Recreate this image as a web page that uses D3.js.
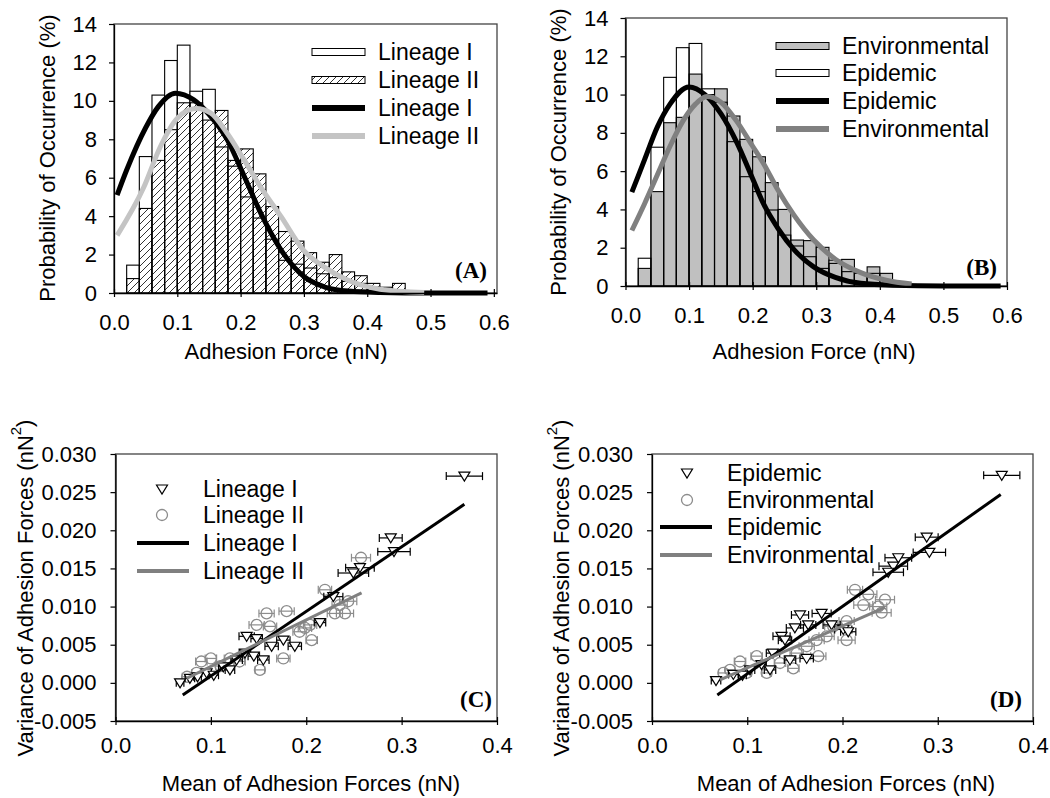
<!DOCTYPE html>
<html><head><meta charset="utf-8">
<script src="https://cdn.jsdelivr.net/npm/d3@7"></script>
<style>body{margin:0;background:#fff}svg{display:block}</style>
</head><body>
<svg id="chart" width="1050" height="798"></svg>
<script>
// ---------- DATA ----------
const binStarts = [0.02,0.04,0.06,0.08,0.10,0.12,0.14,0.16,0.18,0.20,0.22,0.24,0.26,0.28,0.30,0.32,0.34,0.36,0.38,0.40,0.42,0.44];
const binWidth = 0.02;
// Panel A histograms (%)
const histLineageI  = [1.45,7.1,10.3,12.1,12.9,10.5,10.6,7.6,6.6,5.0,3.9,2.8,1.7,1.5,1.3,1.0,0.8,0.6,0.5,0.3,0.2,0];
const histLineageII = [0.75,4.4,6.9,8.5,9.9,9.9,9.0,9.5,6.9,7.5,6.2,4.5,3.2,2.7,2.1,1.6,2.0,1.1,0.9,0.5,0.3,0.5];
// Panel B histograms (%)
const histEpidemic      = [1.45,7.25,10.9,12.45,12.67,10.3,9.6,7.54,5.71,4.93,3.97,2.66,2.09,1.53,0.92,1.18,0.75,0.66,0.66,0.3,0,0];
const histEnvironmental = [0.92,4.93,8.53,8.81,11.07,10.0,10.3,8.88,7.66,6.75,5.4,4.0,2.4,2.37,2.02,1.35,1.39,0.7,1.0,0.66,0.15,0];
// Panel A fitted curves
const curveA_I_x  = [0.005,0.02,0.05,0.07,0.097,0.126,0.15,0.179,0.206,0.232,0.264,0.301,0.333,0.37,0.42,0.5,0.55,0.59];
const curveA_I_y  = [5.1,6.4,8.6,9.7,10.4,10.05,9.3,7.97,6.05,4.14,2.23,0.83,0.31,0.1,0.03,0,0,0];
const curveA_II_x = [0.005,0.047,0.073,0.1,0.13,0.153,0.179,0.206,0.232,0.264,0.3,0.33,0.367,0.42,0.49];
const curveA_II_y = [3.0,5.5,7.6,9.1,9.6,9.36,8.3,6.9,5.5,3.97,2.2,1.4,0.7,0.2,0.03];
// Panel B fitted curves
const curveB_Epi_x = [0.01,0.03,0.05,0.07,0.1,0.125,0.15,0.175,0.2,0.217,0.24,0.265,0.296,0.33,0.37,0.42,0.5,0.59];
const curveB_Epi_y = [4.9,6.6,8.3,9.5,10.4,10.0,9.0,7.5,5.6,4.3,3.0,1.9,1.0,0.45,0.14,0.04,0,0];
const curveB_Env_x = [0.01,0.03,0.05,0.07,0.09,0.11,0.128,0.15,0.175,0.2,0.217,0.24,0.265,0.296,0.33,0.37,0.41,0.45];
const curveB_Env_y = [2.9,4.3,5.8,7.3,8.6,9.5,9.9,9.6,8.6,7.3,6.4,5.0,3.7,2.4,1.4,0.7,0.3,0.1];
const histXTicks = [0,0.1,0.2,0.3,0.4,0.5,0.6];
const histYTicks = [0,2,4,6,8,10,12,14];

// Panel C points [mean, variance, error]
const scatterLineageI = [
 [0.3658,0.0271,0.019],[0.2886,0.0190,0.012],[0.2920,0.0172,0.017],[0.2563,0.0151,0.015],[0.2494,0.0144,0.016],
 [0.2284,0.0113,0.010],[0.2144,0.0079,0.006],[0.1375,0.0061,0.008],[0.1480,0.0058,0.006],[0.1760,0.0056,0.007],
 [0.1880,0.0048,0.007],[0.1637,0.0048,0.007],[0.1357,0.0039,0.006],[0.1270,0.0030,0.006],[0.1550,0.0030,0.006],
 [0.1130,0.0021,0.005],[0.0955,0.0013,0.005],[0.0780,0.0006,0.005],[0.0677,0.0000,0.004],[0.1450,0.0035,0.006],
 [0.1200,0.0017,0.005],[0.1030,0.0010,0.005],[0.0860,0.0008,0.004]];
const scatterLineageII = [
 [0.2574,0.0164,0.010],[0.2196,0.0122,0.007],[0.2440,0.0107,0.009],[0.2350,0.0102,0.008],[0.2300,0.0091,0.008],
 [0.2406,0.0091,0.009],[0.2040,0.0076,0.007],[0.1986,0.0072,0.007],[0.2057,0.0056,0.006],[0.1584,0.0091,0.008],
 [0.1794,0.0094,0.008],[0.1480,0.0076,0.008],[0.1620,0.0074,0.007],[0.1514,0.0017,0.005],[0.1760,0.0032,0.007],
 [0.1930,0.0067,0.007],[0.0900,0.0028,0.006],[0.1000,0.0032,0.006],[0.0850,0.0013,0.005],[0.1100,0.0022,0.005],
 [0.1300,0.0028,0.006],[0.0750,0.0008,0.005],[0.1200,0.0032,0.006]];
const fitLineageI  = [[0.0705,-0.0016],[0.3658,0.0234]];
const fitLineageII = [[0.0745,0.0006],[0.258,0.0118]];
// Panel D points
const scatterEpidemic = [
 [0.3672,0.0272,0.019],[0.2884,0.0191,0.012],[0.2912,0.0171,0.017],[0.2586,0.0164,0.014],[0.2533,0.0153,0.015],
 [0.2480,0.0145,0.016],[0.1554,0.0089,0.009],[0.1781,0.0091,0.010],[0.1640,0.0076,0.008],[0.1500,0.0072,0.009],
 [0.1360,0.0061,0.009],[0.1396,0.0056,0.007],[0.1886,0.0076,0.009],[0.2008,0.0070,0.009],[0.2060,0.0067,0.008],
 [0.1270,0.0039,0.007],[0.1449,0.0030,0.006],[0.1624,0.0032,0.007],[0.1239,0.0017,0.006],[0.1029,0.0017,0.005],
 [0.0854,0.0011,0.005],[0.0672,0.0003,0.005],[0.0950,0.0010,0.004],[0.1150,0.0024,0.005]];
const scatterEnvironmental = [
 [0.2131,0.0122,0.008],[0.2271,0.0116,0.009],[0.2446,0.0109,0.010],[0.2218,0.0102,0.010],[0.2375,0.0100,0.009],
 [0.2411,0.0092,0.010],[0.2043,0.0081,0.008],[0.1903,0.0074,0.009],[0.1833,0.0061,0.008],[0.2043,0.0056,0.009],
 [0.1728,0.0056,0.008],[0.1624,0.0048,0.008],[0.1519,0.0039,0.007],[0.1746,0.0035,0.008],[0.1484,0.0019,0.006],
 [0.1344,0.0026,0.006],[0.1099,0.0035,0.006],[0.0924,0.0028,0.006],[0.0819,0.0017,0.005],[0.0749,0.0013,0.005],
 [0.0994,0.0013,0.005],[0.1204,0.0013,0.005]];
const fitEpidemic      = [[0.0686,-0.0016],[0.3661,0.0247]];
const fitEnvironmental = [[0.0714,0.0004],[0.2446,0.0099]];
const scatXTicks = [0,0.1,0.2,0.3,0.4];
const scatYTicks = [-0.005,0,0.005,0.010,0.015,0.020,0.025,0.030];

// ---------- DRAW ----------
const SANS = "'Liberation Sans', Arial, Helvetica, sans-serif";
const SERIF = "'Liberation Serif', 'Times New Roman', serif";
const svg = d3.select("#chart");
svg.append("rect").attr("width",1050).attr("height",798).attr("fill","#fff");
const defs = svg.append("defs");
const pat = defs.append("pattern").attr("id","hatch").attr("patternUnits","userSpaceOnUse")
  .attr("width",7).attr("height",7);
pat.append("path").attr("d","M-1,1 l2,-2 M0,7 l7,-7 M6,8 l2,-2").attr("stroke","#000").attr("stroke-width",0.8);

function styleAxis(g){
  g.attr("font-size",22).attr("font-family",SANS);
  g.selectAll("path.domain").attr("stroke","#000").attr("stroke-width",1.3);
  g.selectAll(".tick line").attr("stroke","#000").attr("stroke-width",1.2);
  g.selectAll(".tick text").attr("fill","#000");
}
function yTitle(cx, cy, text, sup){
  const t = svg.append("text").attr("transform",`translate(${cx},${cy}) rotate(-90)`)
    .attr("text-anchor","middle").attr("dy","0.35em").attr("font-family",SANS).attr("font-size",22).text(text);
  if (sup){ t.append("tspan").attr("font-size",15).attr("dy","-0.75em").text(sup);
            t.append("tspan").attr("dy","0.5em").text(")"); }
}
function xTitle(cx, by, text){
  svg.append("text").attr("x",cx).attr("y",by).attr("text-anchor","middle")
    .attr("font-family",SANS).attr("font-size",22).text(text);
}
function letter(x,y,t){
  svg.append("text").attr("x",x).attr("y",y).attr("text-anchor","end").attr("font-family",SERIF)
    .attr("font-weight","bold").attr("font-size",23).text(t);
}

function histPanel(o){
  const x = d3.scaleLinear().domain(o.xDom).range(o.xRange);
  const y = d3.scaleLinear().domain([0,14]).range(o.yRange);
  const g = svg.append("g");
  g.append("rect").attr("x",o.xRange[0]).attr("y",o.yRange[1]).attr("width",o.xRange[1]-o.xRange[0])
    .attr("height",o.yRange[0]-o.yRange[1]).attr("fill","none").attr("stroke","#444").attr("stroke-width",1.3);
  o.bars.forEach(b=>{
    g.append("g").selectAll("rect").data(b.values.map((v,i)=>({x0:binStarts[i],v}))).join("rect")
      .filter(d=>d.v>0)
      .attr("x",d=>x(d.x0)).attr("width",d=>x(d.x0+binWidth)-x(d.x0))
      .attr("y",d=>y(d.v)).attr("height",d=>y(0)-y(d.v))
      .attr("fill",b.fill).attr("stroke","#000").attr("stroke-width",1.1);
  });
  const line = d3.line().x(d=>x(d[0])).y(d=>y(d[1])).curve(d3.curveMonotoneX);
  o.curves.forEach(c=>{
    g.append("path").attr("d",line(c.xs.map((v,i)=>[v,c.ys[i]]))).attr("fill","none")
      .attr("stroke",c.color).attr("stroke-width",5).attr("stroke-linecap","butt");
  });
  const ax = g.append("g").attr("transform",`translate(0,${o.yRange[0]})`)
    .call(d3.axisBottom(x).tickValues(histXTicks).tickFormat(d3.format(".1f")).tickSizeInner(4).tickSizeOuter(0).tickPadding(17));
  styleAxis(ax); ax.selectAll(".tick line").attr("y1",-4);
  const ay = g.append("g").attr("transform",`translate(${o.xRange[0]},0)`)
    .call(d3.axisLeft(y).tickValues(histYTicks).tickFormat(d3.format("d")).tickSizeInner(5).tickSizeOuter(0).tickPadding(12));
  styleAxis(ay);
  o.legend.forEach((L,i)=>{
    const ry = o.legY[i];
    if (L.type==="bar"){
      g.append("rect").attr("x",o.legX).attr("y",ry-3.5).attr("width",53).attr("height",7)
        .attr("fill",L.fill).attr("stroke","#000").attr("stroke-width",1);
    } else {
      g.append("line").attr("x1",o.legX).attr("x2",o.legX+53).attr("y1",ry).attr("y2",ry)
        .attr("stroke",L.color).attr("stroke-width",6);
    }
    g.append("text").attr("x",o.legX+66).attr("y",ry+8).attr("font-family",SANS).attr("font-size",23).text(L.label);
  });
}

histPanel({xDom:[0,0.605], xRange:[114,497], yRange:[293,24],
  bars:[{values:histLineageI, fill:"#fff"},{values:histLineageII, fill:"url(#hatch)"}],
  curves:[{xs:curveA_I_x, ys:curveA_I_y, color:"#000"},{xs:curveA_II_x, ys:curveA_II_y, color:"#c4c4c4"}],
  legX:312, legY:[52,80,108,136],
  legend:[{type:"bar",fill:"#fff",label:"Lineage I"},{type:"bar",fill:"url(#hatch)",label:"Lineage II"},
          {type:"line",color:"#000",label:"Lineage I"},{type:"line",color:"#c4c4c4",label:"Lineage II"}]});
histPanel({xDom:[0,0.6], xRange:[625.5,1007], yRange:[286,18],
  bars:[{values:histEnvironmental, fill:"#c0c0c0"},{values:histEpidemic, fill:"none"}],
  curves:[{xs:curveB_Epi_x, ys:curveB_Epi_y, color:"#000"},{xs:curveB_Env_x, ys:curveB_Env_y, color:"#808080"}],
  legX:776, legY:[46,73,101,129],
  legend:[{type:"bar",fill:"#c0c0c0",label:"Environmental"},{type:"bar",fill:"#fff",label:"Epidemic"},
          {type:"line",color:"#000",label:"Epidemic"},{type:"line",color:"#808080",label:"Environmental"}]});

yTitle(47,158,"Probability of Occurrence (%)");
yTitle(558,152,"Probability of Occurrence (%)");
xTitle(286,359,"Adhesion Force (nN)");
xTitle(814,359,"Adhesion Force (nN)");
letter(487,278,"(A)");
letter(997,275,"(B)");

const triPath = "M-5.5,-4 L5.5,-4 L0,5 Z";
function scatterPanel(o){
  const x = d3.scaleLinear().domain([0,0.4]).range(o.xRange);
  const y = d3.scaleLinear().domain([-0.005,0.030]).range([721,454]);
  const g = svg.append("g");
  g.append("rect").attr("x",o.xRange[0]).attr("y",454).attr("width",o.xRange[1]-o.xRange[0]).attr("height",721-454)
    .attr("fill","none").attr("stroke","#444").attr("stroke-width",1.3);
  function drawPts(data, color, kind){
    const pg = g.append("g");
    data.forEach(d=>{
      const py=y(d[1]), x1=x(d[0]-d[2]), x2=x(d[0]+d[2]);
      pg.append("line").attr("x1",x1).attr("x2",x2).attr("y1",py).attr("y2",py).attr("stroke",color).attr("stroke-width",1.2);
      pg.append("line").attr("x1",x1).attr("x2",x1).attr("y1",py-4).attr("y2",py+4).attr("stroke",color).attr("stroke-width",1.2);
      pg.append("line").attr("x1",x2).attr("x2",x2).attr("y1",py-4).attr("y2",py+4).attr("stroke",color).attr("stroke-width",1.2);
    });
    data.forEach(d=>{
      if(kind==="tri") pg.append("path").attr("d",triPath).attr("transform",`translate(${x(d[0])},${y(d[1])})`)
         .attr("fill","#fff").attr("stroke",color).attr("stroke-width",1.2);
      else pg.append("circle").attr("cx",x(d[0])).attr("cy",y(d[1])).attr("r",5.5)
         .attr("fill","none").attr("stroke",color).attr("stroke-width",1.3);
    });
  }
  drawPts(o.gray, "#8c8c8c", "circ");
  drawPts(o.black, "#000", "tri");
  const line = d3.line().x(d=>x(d[0])).y(d=>y(d[1]));
  g.append("path").attr("d",line(o.fitBlack)).attr("stroke","#000").attr("stroke-width",3).attr("fill","none");
  g.append("path").attr("d",line(o.fitGray)).attr("stroke","#808080").attr("stroke-width",3).attr("fill","none");
  const ax = g.append("g").attr("transform","translate(0,721)")
    .call(d3.axisBottom(x).tickValues(scatXTicks).tickFormat(d3.format(".1f")).tickSizeInner(4).tickSizeOuter(0).tickPadding(12));
  styleAxis(ax); ax.selectAll(".tick line").attr("y1",-4);
  const ay = g.append("g").attr("transform",`translate(${o.xRange[0]},0)`)
    .call(d3.axisLeft(y).tickValues(scatYTicks).tickFormat(v=>v.toFixed(3)).tickSizeInner(5).tickSizeOuter(0).tickPadding(14));
  styleAxis(ay);
  const L = o.leg;
  g.append("path").attr("d",triPath).attr("transform",`translate(${L.mx},${L.ys[0]})`).attr("fill","#fff").attr("stroke","#000").attr("stroke-width",1.2);
  g.append("circle").attr("cx",L.mx).attr("cy",L.ys[1]).attr("r",5.5).attr("fill","none").attr("stroke","#8c8c8c").attr("stroke-width",1.3);
  g.append("line").attr("x1",L.lx).attr("x2",L.lx+52).attr("y1",L.ys[2]).attr("y2",L.ys[2]).attr("stroke","#000").attr("stroke-width",4);
  g.append("line").attr("x1",L.lx).attr("x2",L.lx+52).attr("y1",L.ys[3]).attr("y2",L.ys[3]).attr("stroke","#808080").attr("stroke-width",4);
  L.labels.forEach((t,i)=>g.append("text").attr("x",L.tx).attr("y",L.ys[i]+8).attr("font-family",SANS).attr("font-size",23).text(t));
}
scatterPanel({xRange:[115.5,497], black:scatterLineageI, gray:scatterLineageII, fitBlack:fitLineageI, fitGray:fitLineageII,
  leg:{mx:162, lx:137, tx:203, ys:[489,515,543,571], labels:["Lineage I","Lineage II","Lineage I","Lineage II"]}});
scatterPanel({xRange:[652,1033], black:scatterEpidemic, gray:scatterEnvironmental, fitBlack:fitEpidemic, fitGray:fitEnvironmental,
  leg:{mx:687, lx:660, tx:727, ys:[473,500,527,555], labels:["Epidemic","Environmental","Epidemic","Environmental"]}});
yTitle(25,588,"Variance of Adhesion Forces (nN","2");
yTitle(561,588,"Variance of Adhesion Forces (nN","2");
xTitle(311,791,"Mean of Adhesion Forces (nN)");
xTitle(846,791,"Mean of Adhesion Forces (nN)");
letter(492,707,"(C)");
letter(1022,707,"(D)");
</script>
</body></html>
